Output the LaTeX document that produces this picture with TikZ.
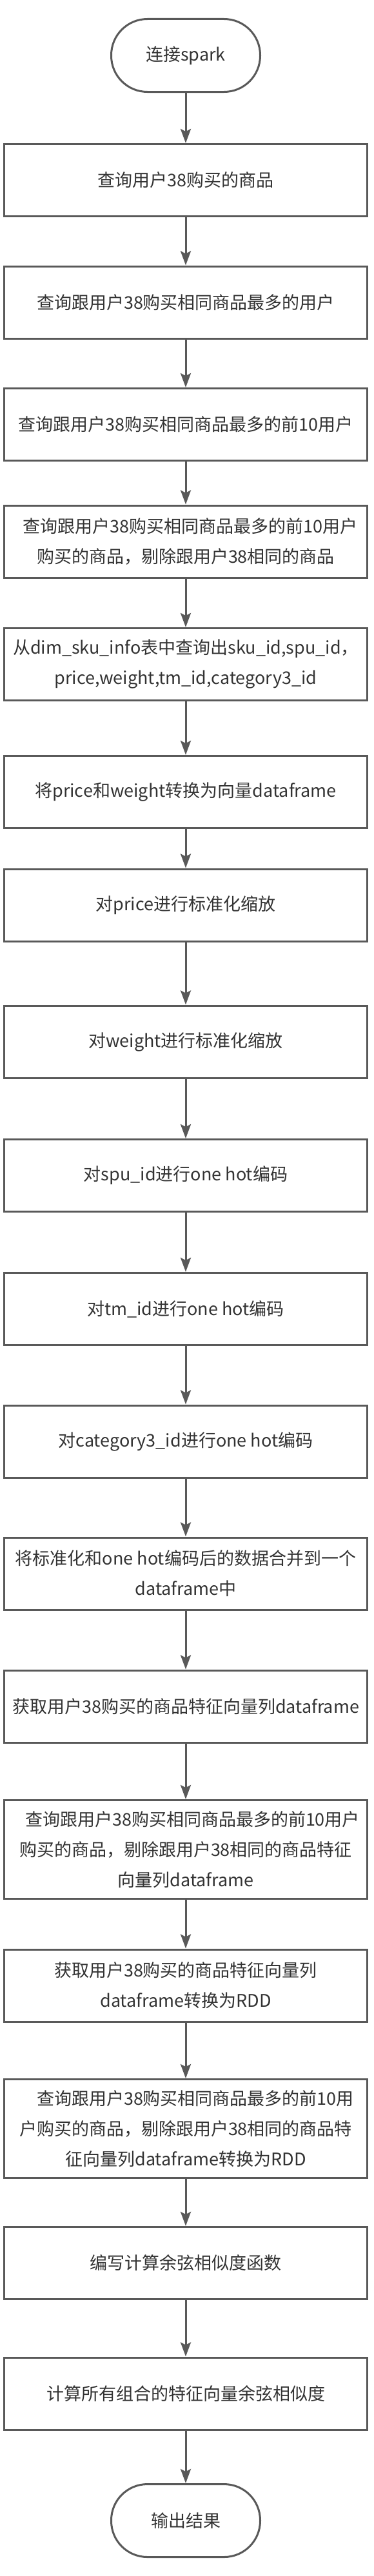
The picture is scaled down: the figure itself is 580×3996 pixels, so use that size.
\documentclass[tikz,border=0pt]{standalone}
\usepackage{fontspec}
\setmainfont{Noto Sans CJK SC}
\usetikzlibrary{arrows.meta}
\definecolor{linegray}{RGB}{89,89,89}
\definecolor{textgray}{RGB}{51,51,51}

\begin{document}
\begin{tikzpicture}[x=1pt,y=-1pt,
    procbox/.style={draw=linegray,line width=3pt,fill=white,text=textgray,
        minimum width=563pt,minimum height=#1,inner sep=0pt,align=center,
        font=\fontsize{27pt}{47pt}\selectfont},
    termbox/.style={draw=linegray,line width=3pt,fill=white,text=textgray,
        rounded corners=56pt,minimum width=231pt,minimum height=113pt,
        inner sep=0pt,font=\fontsize{27pt}{47pt}\selectfont},
    flowline/.style={draw=linegray,line width=3pt,
        -{Stealth[length=22pt,width=16pt,inset=4pt]}}]
    \useasboundingbox (0,0) rectangle (580,3996);
    \node [termbox] (start) at (288,86) {连接spark};
    \foreach \n/\y/\h/\t in {
        b1/279.5/112pt/{查询用户38购买的商品},
        b2/469/112pt/{查询跟用户38购买相同商品最多的用户},
        b3/658.5/112pt/{查询跟用户38购买相同商品最多的前10用户},
        b4/840/112pt/{\hspace*{14pt}查询跟用户38购买相同商品最多的前10用户\\购买的商品，剔除跟用户38相同的商品},
        b5/1030.5/112pt/{从dim\_sku\_info表中查询出sku\_id,spu\_id，\\price,weight,tm\_id,category3\_id},
        b6/1228.5/112pt/{将price和weight转换为向量dataframe},
        b7/1404/112pt/{对price进行标准化缩放},
        b8/1616/112pt/{对weight进行标准化缩放},
        b9/1823.5/112pt/{对spu\_id进行one hot编码},
        b10/2030.5/112pt/{对tm\_id进行one hot编码},
        b11/2236/112pt/{对category3\_id进行one hot编码},
        b12/2441/112pt/{将标准化和one hot编码后的数据合并到一个\\dataframe中},
        b13/2647/112pt/{获取用户38购买的商品特征向量列dataframe},
        b14/2869/153pt/{\hspace*{21pt}查询跟用户38购买相同商品最多的前10用户\\购买的商品，剔除跟用户38相同的商品特征\\向量列dataframe},
        b15/3080/112pt/{获取用户38购买的商品特征向量列\\dataframe转换为RDD},
        b16/3302/153pt/{\hspace*{30pt}查询跟用户38购买相同商品最多的前10用\\户购买的商品，剔除跟用户38相同的商品特\\征向量列dataframe转换为RDD},
        b17/3510.5/112pt/{编写计算余弦相似度函数},
        b18/3713/112pt/{计算所有组合的特征向量余弦相似度}} {
        \node [procbox=\h] (\n) at (288,\y) {\t};
    }
    \node [termbox] (stop) at (288,3910) {输出结果};
    % arrows between the steps
    \foreach \a/\b in {start/b1,b1/b2,b2/b3,b3/b4,b4/b5,b5/b6,b6/b7,b7/b8,b8/b9,
        b9/b10,b10/b11,b11/b12,b12/b13,b13/b14,b14/b15,b15/b16,b16/b17,b17/b18,b18/stop} {
        \draw [flowline] (\a) -- (\b);
    }
\end{tikzpicture}
\end{document}
